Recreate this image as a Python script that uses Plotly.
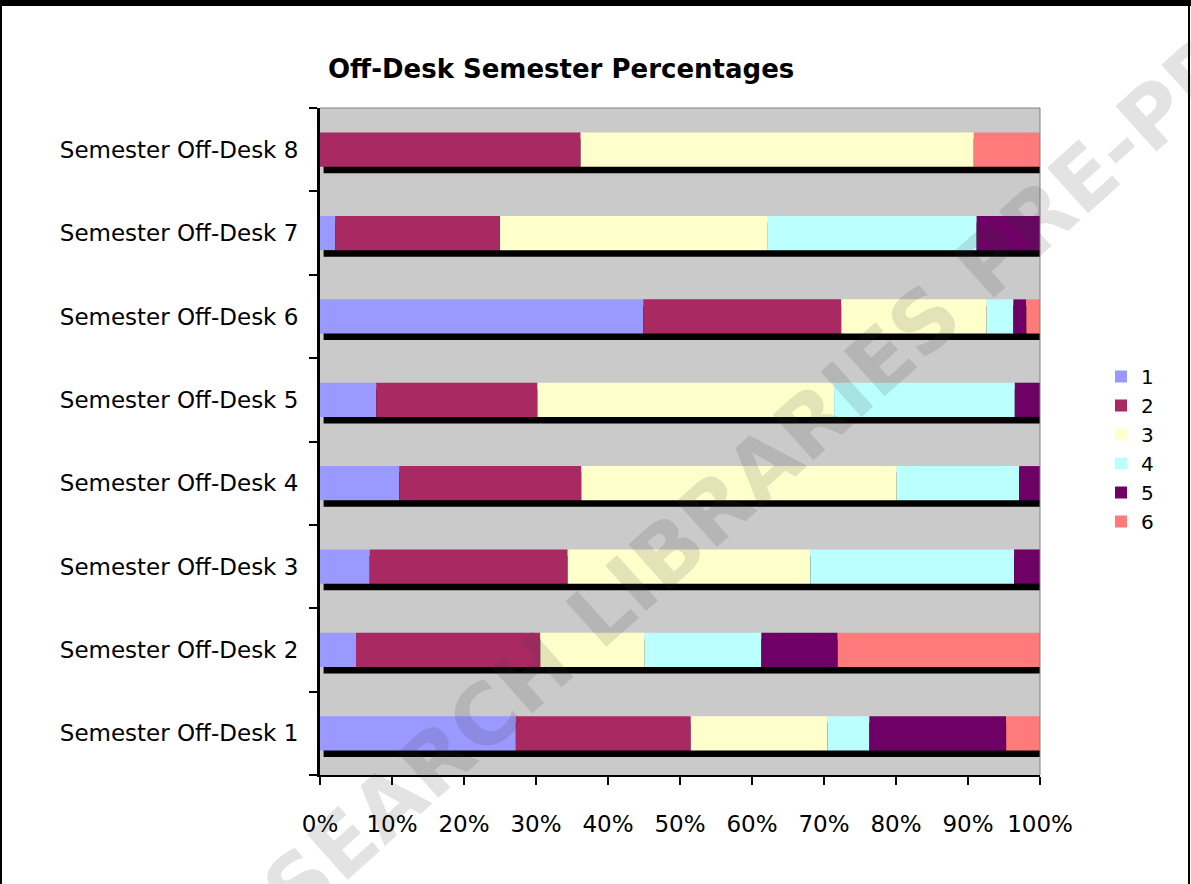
import plotly.graph_objects as go
import numpy as np

semesters = ["Semester Off-Desk %d" % i for i in range(1, 9)]
series_names = ["1", "2", "3", "4", "5", "6"]
colors = ["#9999FF", "#A92A62", "#FFFFCC", "#BBFFFF", "#6F0066", "#FF7B7B"]
x_ticks = [0, 10, 20, 30, 40, 50, 60, 70, 80, 90, 100]
x_tick_labels = ["0%", "10%", "20%", "30%", "40%", "50%", "60%", "70%", "80%", "90%", "100%"]

# percentage share of each response per semester
s1 = [27.2, 5.0, 6.9, 11.0, 7.8, 44.9, 2.1, 0.0]
s2 = [24.3, 25.6, 27.5, 25.3, 22.4, 27.5, 22.9, 36.2]
s3 = [19.0, 14.5, 33.7, 43.8, 41.2, 20.2, 37.2, 54.6]
s4 = [5.8, 16.2, 28.3, 17.0, 25.1, 3.7, 29.0, 0.0]
s5 = [19.0, 10.6, 3.6, 2.9, 3.5, 1.8, 8.8, 0.0]
s6 = [4.7, 28.1, 0.0, 0.0, 0.0, 1.9, 0.0, 9.2]
series = [s1, s2, s3, s4, s5, s6]

# plot area in pixels
W, H = 1191, 884
L, R, T, B = 320, 1040, 108, 775

def px(x):
    return (x - L) / (R - L)

def py(y):
    return (B - y) / (B - T)

bar_w = 0.41
shadow_drop = 0.078

fig = go.Figure()

# black drop shadow under each bar
fig.add_trace(go.Bar(
    y=semesters, x=[100] * len(semesters), base=[0.5] * len(semesters),
    orientation="h", width=bar_w, offset=-bar_w / 2 - shadow_drop,
    marker_color="black", marker_line_width=0, showlegend=False, hoverinfo="skip",
))

bases = np.zeros(len(semesters))
for name, vals, col in zip(series_names, series, colors):
    vals = np.array(vals)
    fig.add_trace(go.Bar(
        y=semesters, x=vals, base=bases.copy(), orientation="h", name=name,
        legendgroup=name, width=bar_w, marker_color=col, marker_line_width=0,
    ))
    bases = bases + vals

# thin grey border on top and right of plot area
fig.add_shape(type="line", xref="paper", yref="paper", x0=0, x1=1, y0=1, y1=1,
              line=dict(color="#808080", width=1), layer="above")
fig.add_shape(type="line", xref="paper", yref="paper", x0=1, x1=1, y0=0, y1=1,
              line=dict(color="#808080", width=1), layer="above")

# page frame
fig.add_shape(type="line", xref="paper", yref="paper", x0=px(0), x1=px(W), y0=py(3), y1=py(3),
              line=dict(color="black", width=6), layer="above")
fig.add_shape(type="line", xref="paper", yref="paper", x0=px(1), x1=px(1), y0=py(0), y1=py(H),
              line=dict(color="black", width=2), layer="above")
fig.add_shape(type="line", xref="paper", yref="paper", x0=px(W - 2), x1=px(W - 2), y0=py(0), y1=py(H),
              line=dict(color="black", width=2), layer="above")

fig.add_annotation(
    text="<b>Off-Desk Semester Percentages</b>", xref="paper", yref="paper",
    x=px(326), y=py(69), xanchor="left", yanchor="middle", showarrow=False,
    font=dict(family="DejaVu Sans", size=26, color="black"),
)

# watermark
fig.add_annotation(
    text="<b>RESEARCH LIBRARIES PRE-PRINT</b>", xref="paper", yref="paper",
    x=px(765), y=py(465), xanchor="center", yanchor="middle", showarrow=False,
    textangle=-42, font=dict(family="DejaVu Sans", size=84, color="rgba(60,60,60,0.14)"),
)

fig.update_layout(
    width=W, height=H,
    barmode="overlay",
    paper_bgcolor="white",
    plot_bgcolor="#CACACA",
    margin=dict(l=L, r=W - R, t=T, b=H - B),
    font=dict(family="DejaVu Sans", size=23, color="black"),
    legend=dict(
        x=px(1101), y=py(449), xanchor="left", yanchor="middle",
        traceorder="normal", font=dict(size=20), itemwidth=30,
        tracegroupgap=3, bgcolor="rgba(0,0,0,0)",
    ),
    xaxis=dict(
        range=[0, 100], tickvals=x_ticks, ticktext=x_tick_labels,
        showgrid=False, zeroline=False, showline=True, linecolor="black", linewidth=2,
        ticks="outside", ticklen=8, tickwidth=2, tickcolor="black",
        ticklabelstandoff=19,
    ),
    yaxis=dict(
        categoryorder="array", categoryarray=semesters, range=[-0.5, 7.5],
        showgrid=False, zeroline=False, showline=True, linecolor="black", linewidth=3,
        ticks="outside", ticklen=8, tickwidth=2, tickcolor="black",
        tickson="boundaries", ticklabelstandoff=14,
    ),
)

fig.write_html("out.html", config={"displayModeBar": False},
               post_script="document.body.style.margin='0px';document.body.style.overflow='hidden';")
